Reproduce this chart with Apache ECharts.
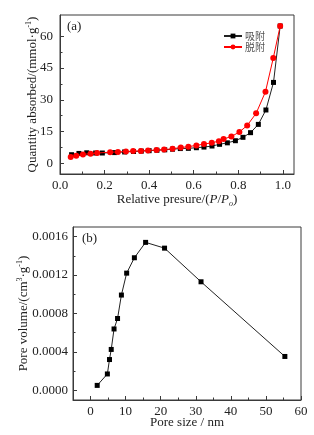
<!DOCTYPE html>
<html><head><meta charset="utf-8">
<script src="https://cdn.jsdelivr.net/npm/echarts@6/dist/echarts.min.js"></script>
<style>html,body{margin:0;padding:0;background:#fff}#c{width:314px;height:435px}</style>
</head><body><div id="c"></div>
<script>
// (a) isotherm
const adsX = [0.052,0.085,0.12,0.16,0.19,0.245,0.29,0.33,0.365,0.40,0.435,0.47,0.505,0.54,0.576,0.612,0.646,0.682,0.716,0.751,0.787,0.821,0.855,0.89,0.924,0.958,0.988];
const adsY = [4.1,4.7,5.0,4.9,4.9,5.1,5.4,5.6,5.8,6.0,6.2,6.4,6.7,7.0,7.1,7.4,7.7,8.2,9.0,9.7,10.7,12.3,14.5,18.4,25.2,38.2,64.8];
const desX = [0.048,0.073,0.103,0.137,0.167,0.225,0.26,0.296,0.328,0.363,0.395,0.433,0.467,0.505,0.542,0.576,0.612,0.646,0.681,0.713,0.734,0.769,0.805,0.84,0.88,0.922,0.957,0.988];
const desY = [3.0,3.6,4.2,4.6,4.9,5.3,5.4,5.6,5.8,5.9,6.1,6.3,6.5,6.9,7.5,7.9,8.5,9.1,9.7,10.5,11.5,12.7,14.8,17.9,23.6,33.8,49.7,64.8];
const seriesNames = ['吸附','脱附'];
const aXTicks = [0,0.2,0.4,0.6,0.8,1.0];
const aXMinor = [0.1,0.3,0.5,0.7,0.9];
const aYTicks = [0,15,30,45,60];
const aYMinor = [7.5,22.5,37.5,52.5];
// (b) pore size distribution
const poreSize = [1.9,4.8,5.4,5.9,6.7,7.7,8.8,10.3,12.5,15.7,21.1,31.5,55.4];
const poreVol = [0.000052,0.000171,0.000321,0.000426,0.000639,0.000748,0.000992,0.00122,0.00138,0.00154,0.00148,0.00113,0.000353];
const bXTicks = [0,10,20,30,40,50,60];
const bXMinor = [-5,5,15,25,35,45,55];
const bYTicks = [0,0.0004,0.0008,0.0012,0.0016];
const bYMinor = [0.0002,0.0006,0.001,0.0014];

const FONT = 'Liberation Serif';
const AX = '#3a3a3a';
const TXT = '#222';

function mainAxis(grid, min, max, ticks, fmt, pos, extra) {
  return Object.assign({
    type: 'value', gridIndex: grid, min: min, max: max, position: pos,
    nameMoveOverlap: false,
    axisLine: {show: true, onZero: false, lineStyle: {color: AX, width: 1}},
    axisTick: {show: true, inside: true, length: 4, customValues: ticks, lineStyle: {color: AX}},
    axisLabel: {customValues: ticks, formatter: fmt, color: TXT, fontFamily: FONT, fontSize: 13, margin: 5},
    splitLine: {show: false},
    nameTextStyle: {fontFamily: FONT, fontSize: 13, color: TXT}
  }, extra || {});
}
function minorAxis(grid, min, max, ticks, pos) {
  return {
    type: 'value', gridIndex: grid, min: min, max: max, position: pos,
    axisLine: {show: false, onZero: false},
    axisTick: {show: true, inside: true, length: 2.5, customValues: ticks, lineStyle: {color: AX}},
    axisLabel: {show: false},
    splitLine: {show: false}
  };
}

const option = {
  animation: false,
  backgroundColor: '#fff',
  grid: [
    {left: 60, top: 15, width: 234, height: 159, show: true, borderColor: AX, borderWidth: 1, containLabel: false},
    {left: 73, top: 227, width: 228, height: 173, show: true, borderColor: AX, borderWidth: 1, containLabel: false}
  ],
  xAxis: [
    mainAxis(0, 0, 1.05, aXTicks, v => v.toFixed(1), 'bottom', {
      name: '{a|Relative presure/(}{i|P}{a|/}{i|P}{s|o}{a|)}',
      nameLocation: 'middle', nameGap: 18,
      nameTextStyle: {rich: {
        a: {fontFamily: FONT, fontSize: 13, color: TXT, lineHeight: 16},
        i: {fontFamily: FONT, fontSize: 13, fontStyle: 'italic', color: TXT, lineHeight: 16},
        s: {fontFamily: FONT, fontSize: 8, fontStyle: 'italic', color: TXT, verticalAlign: 'bottom', lineHeight: 16, padding: [6,0,0,0]}
      }}
    }),
    minorAxis(0, 0, 1.05, aXMinor, 'bottom'),
    mainAxis(1, -5, 60, bXTicks, v => String(v), 'bottom', {
      name: 'Pore size / nm', nameLocation: 'middle', nameGap: 16
    }),
    minorAxis(1, -5, 60, bXMinor, 'bottom')
  ],
  yAxis: [
    mainAxis(0, -5, 70, aYTicks, v => String(v), 'left', {
      name: '{a|Quantity absorbed/(mmol·g}{s|-1}{a|)}',
      nameLocation: 'middle', nameGap: 19,
      nameTextStyle: {rich: {
        a: {fontFamily: FONT, fontSize: 13, color: TXT, lineHeight: 16},
        s: {fontFamily: FONT, fontSize: 8, color: TXT, verticalAlign: 'top', lineHeight: 16, padding: [0,0,6,0]}
      }},
      axisLabel: {customValues: aYTicks, color: TXT, fontFamily: FONT, fontSize: 13, margin: 7}
    }),
    minorAxis(0, -5, 70, aYMinor, 'left'),
    mainAxis(1, -0.0001, 0.0017, bYTicks, v => v.toFixed(4), 'left', {
      name: '{a|Pore volume/(cm}{s|3}{a|·g}{s|-1}{a|)}',
      nameLocation: 'middle', nameGap: 41,
      nameTextStyle: {rich: {
        a: {fontFamily: FONT, fontSize: 13, color: TXT, lineHeight: 16},
        s: {fontFamily: FONT, fontSize: 8, color: TXT, verticalAlign: 'top', lineHeight: 16, padding: [0,0,6,0]}
      }}
    }),
    minorAxis(1, -0.0001, 0.0017, bYMinor, 'left')
  ],
  legend: {
    data: seriesNames,
    orient: 'vertical', left: 218, top: 26,
    itemWidth: 18, itemHeight: 6, itemGap: 1,
    textStyle: {fontFamily: 'Noto Sans CJK SC', fontSize: 10, color: '#555', padding: [0,0,0,-2]}
  },
  graphic: [
    {type: 'text', left: 67, top: 20, style: {text: '(a)', font: '13px "Liberation Serif"', fill: TXT}},
    {type: 'text', left: 82, top: 232, style: {text: '(b)', font: '13px "Liberation Serif"', fill: TXT}}
  ],
  series: [
    {name: seriesNames[0], type: 'line', xAxisIndex: 0, yAxisIndex: 0,
     data: adsX.map((x, i) => [x, adsY[i]]),
     symbol: 'rect', symbolSize: 5, lineStyle: {color: '#222', width: 1}, itemStyle: {color: '#000'}, z: 2},
    {name: seriesNames[1], type: 'line', xAxisIndex: 0, yAxisIndex: 0,
     data: desX.map((x, i) => [x, desY[i]]),
     symbol: 'circle', symbolSize: 6, lineStyle: {color: '#ff0000', width: 1}, itemStyle: {color: '#ff0000'}, z: 3},
    {name: 'psd', type: 'line', xAxisIndex: 2, yAxisIndex: 2,
     data: poreSize.map((x, i) => [x, poreVol[i]]),
     symbol: 'rect', symbolSize: 5, lineStyle: {color: '#222', width: 1}, itemStyle: {color: '#000'}}
  ]
};
const chart = echarts.init(document.getElementById('c'), null, {renderer: 'canvas'});
chart.setOption(option);
</script></body></html>
